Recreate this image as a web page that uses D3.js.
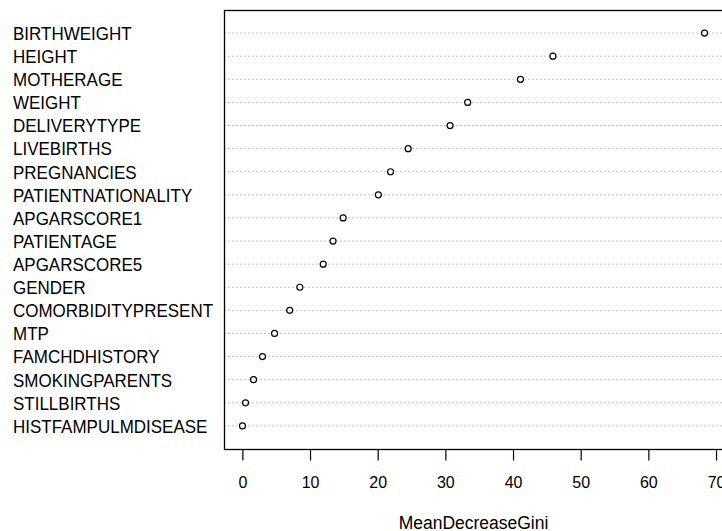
<!DOCTYPE html>
<html>
<head>
<meta charset="utf-8">
<script src="https://cdn.jsdelivr.net/npm/d3@7"></script>
<style>
  body { margin: 0; background: #fff; }
  text { font-family: Arial, "Liberation Sans", sans-serif; fill: #000; }
</style>
</head>
<body>
<div class="chart"></div>
<script>
// variable importance, top to bottom as shown
var variables = [
  "BIRTHWEIGHT", "HEIGHT", "MOTHERAGE", "WEIGHT", "DELIVERYTYPE",
  "LIVEBIRTHS", "PREGNANCIES", "PATIENTNATIONALITY", "APGARSCORE1",
  "PATIENTAGE", "APGARSCORE5", "GENDER", "COMORBIDITYPRESENT", "MTP",
  "FAMCHDHISTORY", "SMOKINGPARENTS", "STILLBIRTHS", "HISTFAMPULMDISEASE"
];
var giniValues = [
  68.3, 45.9, 41.1, 33.3, 30.7,
  24.5, 21.9, 20.1, 14.9,
  13.4, 11.95, 8.5, 7.0, 4.76,
  2.98, 1.65, 0.47, 0.02
];
var xTicks = [0, 10, 20, 30, 40, 50, 60, 70];
var xTitle = "MeanDecreaseGini";

var width = 722, height = 531;
var plot = { left: 224, right: 723, top: 10, bottom: 449 };

var svg = d3
  .select(".chart")
  .append("svg")
  .attr("width", width)
  .attr("height", height);

// R style range: data extent padded by 4%
var lo = d3.min(giniValues), hi = d3.max(giniValues);
var pad = (hi - lo) * 0.04;
var x = d3.scaleLinear()
  .domain([lo - pad, hi + pad])
  .range([plot.left, plot.right]);

var n = variables.length;
var y = d3.scaleLinear()
  .domain([0, n + 1])
  .range([plot.bottom, plot.top]);

function rowY(i) {
  return y(n - i);
}

// dotted guide lines
svg.selectAll(".guide")
  .data(variables)
  .enter()
  .append("line")
  .attr("class", "guide")
  .attr("x1", plot.left)
  .attr("x2", plot.right)
  .attr("y1", function (d, i) { return rowY(i); })
  .attr("y2", function (d, i) { return rowY(i); })
  .attr("stroke", "#c4c4c4")
  .attr("stroke-width", 1)
  .attr("stroke-dasharray", "2,2");

// row labels (R text looks vertically stretched)
svg.selectAll(".rowlab")
  .data(variables)
  .enter()
  .append("text")
  .attr("class", "rowlab")
  .attr("transform", function (d, i) {
    return "translate(13," + rowY(i) + ") scale(1,1.12)";
  })
  .attr("dy", "0.36em")
  .style("font-size", "17px")
  .text(function (d) { return d; });

// points
svg.selectAll(".pt")
  .data(giniValues)
  .enter()
  .append("circle")
  .attr("class", "pt")
  .attr("cx", function (d) { return x(d); })
  .attr("cy", function (d, i) { return rowY(i); })
  .attr("r", 3)
  .attr("fill", "#fff")
  .attr("stroke", "#000")
  .attr("stroke-width", 1.2);

// frame
svg.append("rect")
  .attr("x", plot.left + 0.5)
  .attr("y", plot.top + 0.5)
  .attr("width", plot.right - plot.left)
  .attr("height", plot.bottom - plot.top)
  .attr("fill", "none")
  .attr("stroke", "#000")
  .attr("stroke-width", 1.3);

// x axis
var axis = svg.append("g")
  .attr("transform", "translate(0," + (plot.bottom + 0.5) + ")")
  .call(d3.axisBottom(x).tickValues(xTicks).tickSize(11).tickPadding(0).tickFormat(d3.format("d")));
axis.select(".domain").remove();
axis.selectAll(".tick line").attr("stroke", "#000").attr("stroke-width", 1.2);
axis.selectAll(".tick text")
  .attr("y", 0)
  .attr("transform", "translate(0,32) scale(1,1.08)")
  .attr("dy", "0.36em")
  .style("font-size", "16px")
  .style("font-family", "Arial, 'Liberation Sans', sans-serif")
  .attr("fill", "#000");

svg.append("text")
  .attr("transform", "translate(" + ((plot.left + plot.right) / 2) + ",522) scale(1,1.05)")
  .attr("text-anchor", "middle")
  .attr("dy", "0.36em")
  .style("font-size", "17.5px")
  .text(xTitle);
</script>
</body>
</html>
